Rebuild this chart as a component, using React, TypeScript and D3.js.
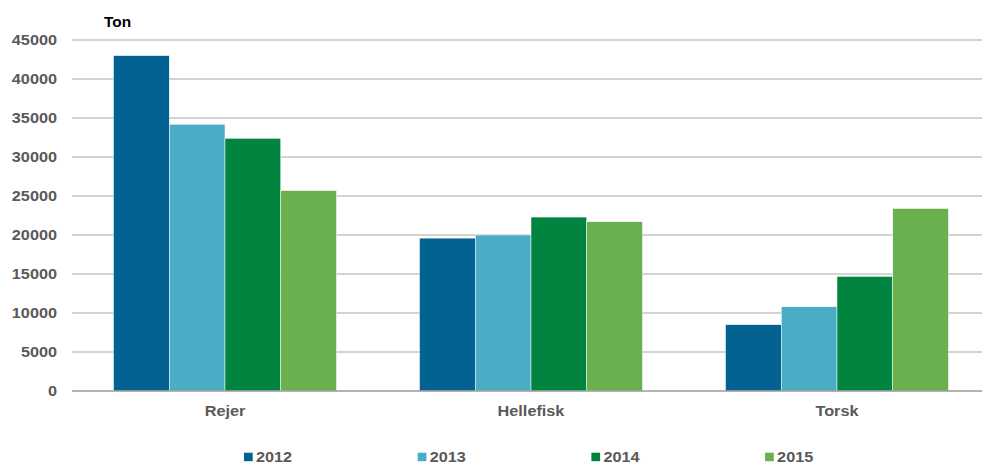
import React, { useEffect, useRef } from "react";
import * as d3 from "d3";

// chart data
const categories = ["Rejer", "Hellefisk", "Torsk"];
const years = ["2012", "2013", "2014", "2015"];
const values2012 = [43000, 19600, 8500];
const values2013 = [34200, 20000, 10800];
const values2014 = [32400, 22300, 14700];
const values2015 = [25700, 21700, 23400];
const yTicks = [0, 5000, 10000, 15000, 20000, 25000, 30000, 35000, 40000, 45000];
const colors = ["#026393", "#4bacc6", "#00843f", "#6ab04f"];

const App = () => {
  const chartRef = useRef<SVGSVGElement | null>(null);

  useEffect(() => {
    const svg = d3.select(chartRef.current);
    svg.selectAll("*").remove();

    const width = 982;
    const height = 464;
    const font = "'Liberation Sans', Arial, sans-serif";
    const stretch = 1.16; // the original text is a little wide
    const series = [values2012, values2013, values2014, values2015];

    // scales
    const x0 = d3.scaleBand().domain(categories).range([72, 990]);
    const x1 = d3
      .scaleBand()
      .domain(years)
      .range([41.5, x0.bandwidth() - 41.5]);
    const y = d3.scaleLinear().domain([0, 45000]).range([391, 40]);

    // gridlines
    svg
      .append("g")
      .selectAll("line")
      .data(yTicks.slice(1))
      .enter()
      .append("line")
      .attr("x1", 72)
      .attr("x2", width)
      .attr("y1", (d) => y(d))
      .attr("y2", (d) => y(d))
      .attr("stroke", "#c4c4c4")
      .attr("stroke-width", 1.3);

    // y tick labels
    svg
      .append("g")
      .selectAll("text")
      .data(yTicks)
      .enter()
      .append("text")
      .attr("transform", (d) => `translate(57,${y(d) + 5}) scale(${stretch},1)`)
      .attr("text-anchor", "end")
      .style("font-family", font)
      .style("font-weight", "bold")
      .style("font-size", "14px")
      .style("fill", "#595959")
      .text((d) => d);

    // bars
    const groups = svg
      .append("g")
      .selectAll("g")
      .data(categories)
      .enter()
      .append("g")
      .attr("transform", (d) => `translate(${x0(d)},0)`);

    groups
      .selectAll("rect")
      .data((d, i) => years.map((yr, j) => ({ yr, v: series[j][i], c: colors[j] })))
      .enter()
      .append("rect")
      .attr("x", (d) => x1(d.yr)!)
      .attr("width", x1.bandwidth())
      .attr("y", (d) => y(d.v))
      .attr("height", (d) => y(0) - y(d.v))
      .style("fill", (d) => d.c)
      .style("stroke", "#ffffff")
      .style("stroke-width", 0.5);

    // baseline
    svg
      .append("line")
      .attr("x1", 72)
      .attr("x2", width)
      .attr("y1", y(0))
      .attr("y2", y(0))
      .attr("stroke", "#9a9a9a")
      .attr("stroke-width", 1.3);

    // category labels
    svg
      .append("g")
      .selectAll("text")
      .data(categories)
      .enter()
      .append("text")
      .attr(
        "transform",
        (d) => `translate(${x0(d)! + x0.bandwidth() / 2},416) scale(${stretch},1)`
      )
      .attr("text-anchor", "middle")
      .style("font-family", font)
      .style("font-weight", "bold")
      .style("font-size", "14px")
      .style("fill", "#595959")
      .text((d) => d);

    // unit label
    svg
      .append("text")
      .attr("transform", `translate(104,27) scale(1.1,1)`)
      .style("font-family", font)
      .style("font-weight", "bold")
      .style("font-size", "14px")
      .style("fill", "#000000")
      .text("Ton");

    // legend
    const legend = svg
      .append("g")
      .selectAll("g")
      .data(years)
      .enter()
      .append("g")
      .attr("transform", (d, i) => `translate(${244 + i * 173.7},0)`);

    legend
      .append("rect")
      .attr("x", 0)
      .attr("y", 452.7)
      .attr("width", 8.7)
      .attr("height", 8.5)
      .style("fill", (d, i) => colors[i]);

    legend
      .append("text")
      .attr("transform", `translate(12,461.7) scale(${stretch},1)`)
      .style("font-family", font)
      .style("font-weight", "bold")
      .style("font-size", "14px")
      .style("fill", "#595959")
      .text((d) => d);

    svg.attr("width", width).attr("height", height);
  }, []);

  return (
    <svg
      ref={chartRef}
      style={{ position: "absolute", left: 0, top: 0, display: "block" }}
    ></svg>
  );
};

export default App;
